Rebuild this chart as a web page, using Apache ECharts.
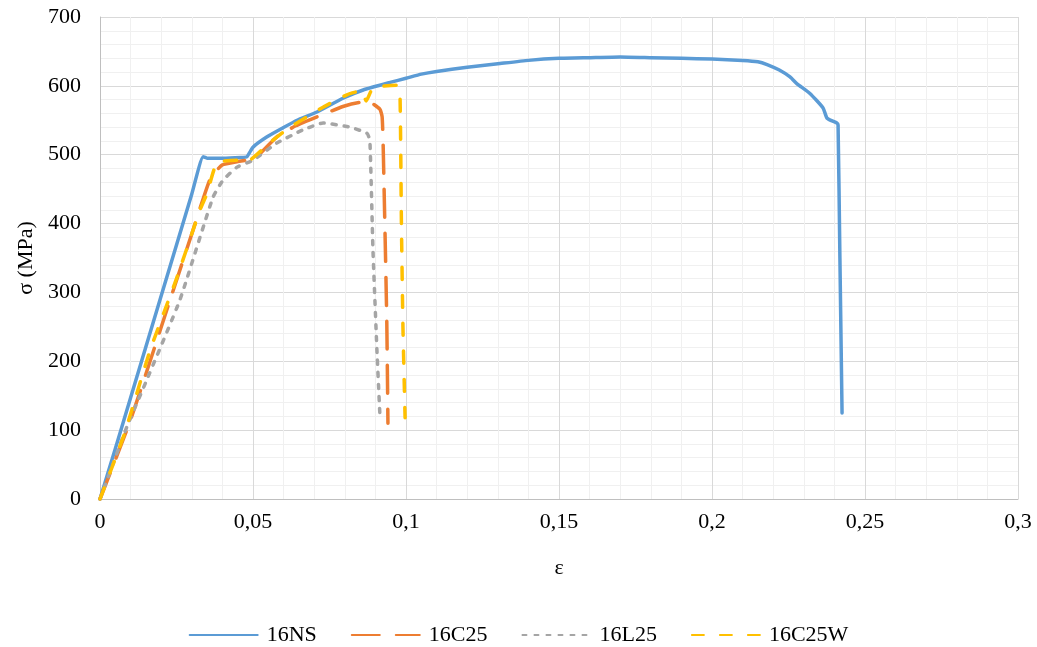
<!DOCTYPE html>
<html>
<head>
<meta charset="utf-8">
<script src="https://cdn.jsdelivr.net/npm/echarts@6/dist/echarts.min.js"></script>
<style>
html,body{margin:0;padding:0;background:#fff;}
#c{width:1037px;height:647px;}
</style>
</head>
<body>
<div id="c"></div>
<script>
// ---- data ----
const seriesNames = ['16NS', '16C25', '16L25', '16C25W'];

const ns_strain = [0, 0.005, 0.01, 0.02, 0.03, 0.0337, 0.035, 0.04, 0.046, 0.048, 0.05, 0.0546, 0.0598, 0.0644, 0.0709, 0.0794, 0.086, 0.0948, 0.1, 0.105, 0.11, 0.12, 0.13, 0.14, 0.15, 0.16, 0.17, 0.18, 0.19, 0.2, 0.21, 0.215, 0.218, 0.222, 0.2255, 0.2278, 0.232, 0.2363, 0.2376, 0.2408, 0.2412, 0.2418, 0.2425];
const ns_stress = [0, 73, 147, 295, 443, 497, 495, 495, 496, 497, 511, 526, 539, 550, 562, 582, 594, 605, 611, 617, 621, 627, 632, 637, 640, 641, 642, 641, 640, 639, 637, 635, 631, 623, 613, 603, 589, 568, 553, 546, 543, 350, 125];

const c25_strain = [0, 0.01, 0.0229, 0.03, 0.036, 0.0399, 0.045, 0.048, 0.05, 0.052, 0.0578, 0.064, 0.0709, 0.0794, 0.085, 0.0882, 0.0915, 0.0922, 0.0925, 0.0937, 0.0941];
const c25_stress = [0, 115, 289, 385, 465, 485, 490, 492, 490, 500, 526, 542, 555, 570, 576, 576, 566, 555, 521, 264, 110];

const l25_strain = [0, 0.0088, 0.015, 0.0261, 0.0369, 0.0402, 0.0448, 0.05, 0.0578, 0.0663, 0.0729, 0.0817, 0.0873, 0.0882, 0.0892, 0.0905, 0.0915];
const l25_stress = [0, 105, 170, 289, 438, 463, 482, 492, 517, 536, 546, 540, 531, 520, 362, 216, 119];

const c25w_strain = [0, 0.008, 0.0163, 0.025, 0.0327, 0.035, 0.0382, 0.045, 0.048, 0.0556, 0.0621, 0.0729, 0.0807, 0.0855, 0.087, 0.0892, 0.097, 0.098, 0.0985, 0.099, 0.0997];
const c25w_stress = [0, 95, 215, 320, 420, 444, 488, 492, 490, 518, 540, 569, 587, 593, 578, 597, 601, 594, 400, 250, 118];

const xTicks = [0, 0.05, 0.1, 0.15, 0.2, 0.25, 0.3];
const yTicks = [0, 100, 200, 300, 400, 500, 600, 700];

// ---- build ----
function pairs(xs, ys) { return xs.map((x, i) => [x, ys[i]]); }
const font = '"Liberation Serif", "Times New Roman", serif';

const chart = echarts.init(document.getElementById('c'), null, {renderer: 'canvas'});
const styles = [
  {color: '#5B9BD5', type: 'solid'},
  {color: '#ED7D31', type: [28, 16]},
  {color: '#A5A5A5', type: [4, 8]},
  {color: '#FFC000', type: [12, 16]}
];
const datas = [
  pairs(ns_strain, ns_stress),
  pairs(c25_strain, c25_stress),
  pairs(l25_strain, l25_stress),
  pairs(c25w_strain, c25w_stress)
];

chart.setOption({
  animation: false,
  backgroundColor: '#fff',
  textStyle: {fontFamily: font, color: '#000'},
  grid: {left: 100, right: 19, top: 17, bottom: 148, containLabel: false},
  legend: {
    data: seriesNames,
    top: 619,
    left: 'center',
    itemWidth: 68,
    itemHeight: 14,
    itemGap: 34,
    itemStyle: {opacity: 0},
    textStyle: {fontFamily: font, fontSize: 22, color: '#000', padding: [0, 0, 0, 4]}
  },
  xAxis: {
    type: 'value',
    min: xTicks[0], max: xTicks[xTicks.length - 1], interval: 0.05,
    name: 'ε',
    nameLocation: 'middle',
    nameGap: 58,
    nameTextStyle: {fontFamily: font, fontSize: 22, color: '#000'},
    axisLine: {show: true, lineStyle: {color: '#bfbfbf', width: 1}},
    axisTick: {show: false},
    axisLabel: {
      fontFamily: font, fontSize: 22, color: '#000', margin: 12,
      formatter: v => (v === 0 ? '0' : String(+v.toFixed(2)).replace('.', ','))
    },
    splitLine: {show: true, lineStyle: {color: '#d9d9d9', width: 1}},
    minorTick: {show: false, splitNumber: 5},
    minorSplitLine: {show: true, lineStyle: {color: '#f0f0f0', width: 1}}
  },
  yAxis: {
    type: 'value',
    min: yTicks[0], max: yTicks[yTicks.length - 1], interval: 100,
    name: 'σ (MPa)',
    nameLocation: 'middle',
    nameGap: 56,
    nameRotate: 90,
    nameTextStyle: {fontFamily: font, fontSize: 22, color: '#000'},
    axisLine: {show: true, lineStyle: {color: '#bfbfbf', width: 1}},
    axisTick: {show: false},
    axisLabel: {fontFamily: font, fontSize: 22, color: '#000', margin: 19},
    splitLine: {show: true, lineStyle: {color: '#d9d9d9', width: 1}},
    minorTick: {show: false, splitNumber: 5},
    minorSplitLine: {show: true, lineStyle: {color: '#f0f0f0', width: 1}}
  },
  series: seriesNames.map((n, i) => ({
    name: n,
    type: 'line',
    data: datas[i],
    symbol: 'none',
    smooth: 0.15,
    color: styles[i].color,
    lineStyle: {color: styles[i].color, width: 3.5, type: styles[i].type, cap: 'round', join: 'round'},
    emphasis: {disabled: true}
  }))
});
</script>
</body>
</html>
